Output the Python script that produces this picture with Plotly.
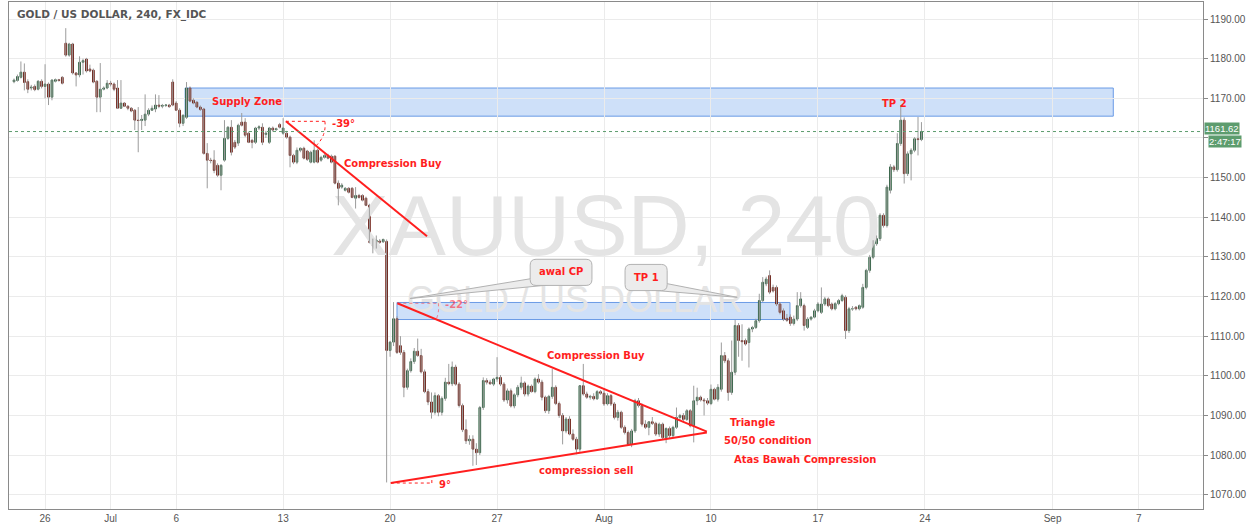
import plotly.graph_objects as go
from datetime import datetime, timedelta

# ---------------- data (4h candles, XAUUSD) ----------------
opens = [
 1174.2,1174.5,1175.3,1176.6,1174.2,1172.6,1173.0,1172.3,1174.3,
 1173.0,1173.6,1170.3,1174.3,1174.7,1175.3,
 1183.9,
 1180.9,1183.7,1176.4,1175.9,1179.1,1179.9,
 1177.4,1177.1,1174.3,1170.3,1172.3,1172.6,
 1173.8,1173.6,1172.6,1167.5,1168.8,1168.0,
 1167.5,1167.0,1164.5,1164.4,1164.5,1166.0,
 1167.0,1167.3,1168.3,1168.0,1168.2,1168.3,
 1174.1,
 1168.8,1167.0,1163.7,1165.2,1172.6,1169.5,
 1169.0,1167.8,1167.3,1156.1,1154.4,1154.4,
 1153.1,1150.6,1154.4,1159.9,1162.7,1158.9,
 1158.7,1164.0,1164.0,1161.2,1159.4,1158.9,
 1162.5,1162.7,1160.9,1158.9,1162.5,1162.1,
 1163.4,
 1161.2,1161.2,1160.2,1155.6,1153.9,1156.9,
 1157.4,1156.7,1153.9,1153.9,1156.9,1154.4,
 1155.1,1155.6,1155.4,1155.4,1148.6,1147.6,
 1146.8,1147.3,1147.3,1144.8,1145.5,1145.5,
 1144.8,1143.0,1134.2,1132.9,1134.0,1133.8,
 1133.9,
 1106.4,1108.5,1114.4,1107.6,1105.9,1097.1,
 1101.3,1103.6,1106.2,1105.1,1101.0,1096.0,
 1093.4,1090.8,1095.0,1090.8,1094.3,1098.4,
 1098.0,1102.2,1097.9,1092.5,1086.4,1083.6,
 1084.0,1081.5,1080.6,1092.0,1098.8,1098.4,
 1097.9,
 1099.2,1099.6,1097.9,1093.9,1096.2,1092.4,
 1095.2,1097.1,1098.2,1095.4,1097.4,1096.0,
 1099.2,1098.4,1094.6,1091.2,1094.8,1097.1,
 1093.0,1090.0,1086.1,1089.1,1085.3,1084.0,
 1081.5,1097.5,1095.4,1094.6,1094.8,1094.2,
 1096.0,
 1095.6,1092.9,1095.0,1092.9,1089.5,1090.8,
 1087.0,1085.7,1082.7,1086.1,1093.7,1092.5,
 1087.8,1087.0,1088.4,1088.0,1085.3,1087.8,
 1084.4,1086.7,1084.9,1087.0,1089.5,1090.0,
 1089.0,1091.2,1087.4,1093.7,1094.6,1093.9,
 1093.7,
 1093.0,1096.6,1094.1,1096.6,1105.1,1103.8,
 1095.8,1100.9,1112.7,1108.9,1108.9,1108.4,
 1111.8,1112.2,1113.9,1119.0,1123.2,1125.3,
 1122.3,1122.3,1118.1,1116.4,1114.5,1114.8,
 1113.2,1114.3,1117.7,1117.7,1112.2,1114.3,
 1114.8,
 1116.4,1116.0,1118.1,1119.4,1118.1,1116.9,
 1118.2,1119.0,1119.8,1111.4,1116.9,1117.3,
 1116.9,1117.3,1122.3,1126.6,1129.9,1133.3,
 1134.6,1140.5,1137.9,1146.8,1152.7,1152.0,
 1158.6,1164.5,1151.0,1156.0,1156.9,1159.8,
 1159.6,
]
highs = [
 1175.0,1176.0,1179.3,1178.8,1174.8,1173.4,1173.5,1174.6,1174.8,
 1178.6,1174.0,1174.8,1175.0,1174.9,1175.6,
 1187.7,
 1184.0,1184.0,1176.6,1180.6,1180.0,1180.2,
 1178.5,1177.5,1174.6,1178.9,1173.0,1174.6,
 1174.4,1174.0,1174.6,1174.6,1169.0,1168.3,
 1167.8,1167.3,1167.8,1165.8,1171.0,1167.5,
 1168.2,1171.0,1170.8,1168.6,1168.5,1168.6,
 1174.8,
 1169.3,1167.5,1166.0,1174.1,1173.0,1170.0,
 1169.3,1168.2,1167.6,1158.7,1155.0,1156.9,
 1153.6,1153.4,1164.5,1163.0,1164.5,1159.5,
 1163.6,1166.3,1165.0,1161.6,1159.8,1162.8,
 1163.2,1163.7,1161.8,1162.8,1162.9,1162.6,
 1163.8,
 1165.0,1161.8,1160.6,1156.0,1157.6,1157.6,
 1157.8,1157.0,1156.8,1159.4,1157.3,1155.5,
 1155.9,1156.0,1155.8,1155.6,1149.3,1148.6,
 1147.6,1147.6,1147.6,1147.6,1145.9,1145.8,
 1145.2,1143.4,1134.6,1135.4,1134.5,1134.6,
 1134.4,
 1108.8,1118.6,1115.0,1110.0,1106.5,1101.8,
 1104.4,1107.0,1109.4,1106.8,1101.6,1096.7,
 1095.8,1095.8,1095.4,1094.8,1099.5,1103.0,
 1103.6,1102.8,1098.4,1093.0,1089.0,1085.0,
 1085.0,1083.0,1092.4,1099.6,1099.4,1099.0,
 1099.5,
 1104.7,1100.2,1098.4,1096.8,1096.8,1095.6,
 1097.7,1099.8,1098.6,1097.8,1097.8,1099.6,
 1100.4,1099.0,1095.0,1095.2,1101.7,1097.6,
 1093.5,1090.6,1089.6,1089.8,1086.5,1084.6,
 1097.6,1103.0,1096.0,1095.2,1095.6,1096.4,
 1096.4,
 1096.8,1095.6,1095.4,1093.4,1091.4,1091.2,
 1087.5,1086.2,1086.6,1094.2,1094.4,1093.0,
 1088.8,1088.6,1089.6,1088.4,1088.2,1088.2,
 1087.0,1087.2,1087.4,1092.0,1090.4,1090.6,
 1091.6,1091.6,1097.5,1097.0,1095.0,1094.4,
 1094.4,
 1097.8,1097.0,1097.9,1108.4,1106.0,1104.4,
 1108.9,1114.1,1113.3,1113.0,1109.4,1112.2,
 1112.6,1114.4,1120.7,1124.9,1125.0,1126.6,
 1123.0,1122.8,1118.6,1117.0,1115.6,1115.5,
 1115.2,1121.1,1121.1,1118.2,1114.8,1115.0,
 1116.9,
 1118.6,1122.3,1119.9,1119.8,1118.5,1118.6,
 1119.4,1120.7,1120.3,1117.4,1117.6,1117.6,
 1118.0,1123.2,1127.0,1130.5,1134.2,1135.4,
 1141.0,1141.0,1148.2,1153.4,1153.2,1161.2,
 1168.3,1165.2,1156.6,1157.4,1160.2,1165.3,
 1164.0,
]
lows = [
 1173.8,1174.2,1175.0,1172.0,1171.3,1172.0,1171.8,1172.0,1172.5,
 1170.0,1168.3,1169.5,1174.0,1174.2,1173.5,
 1180.5,
 1180.5,1176.0,1173.0,1175.3,1176.0,1176.5,
 1176.6,1173.8,1166.5,1166.5,1172.0,1172.3,
 1173.0,1171.8,1167.3,1167.3,1167.8,1167.0,
 1166.5,1162.0,1156.4,1162.0,1163.0,1165.5,
 1166.8,1166.5,1167.5,1167.5,1167.8,1167.6,
 1168.0,
 1166.8,1162.7,1163.0,1164.8,1169.0,1168.5,
 1167.5,1166.8,1155.8,1147.3,1153.6,1151.1,
 1150.2,1146.8,1154.0,1159.5,1155.6,1157.2,
 1158.0,1162.9,1160.2,1158.7,1157.4,1158.5,
 1162.0,1158.2,1160.0,1158.5,1161.6,1161.8,
 1162.4,
 1160.8,1159.8,1152.6,1153.4,1153.4,1156.4,
 1154.6,1154.2,1153.6,1153.6,1153.6,1154.0,
 1154.8,1154.6,1153.6,1148.3,1143.0,1147.2,
 1146.5,1146.0,1144.8,1142.2,1144.7,1144.0,
 1142.8,1133.4,1130.9,1132.1,1133.3,1133.5,
 1073.1,
 1104.8,1107.5,1105.5,1105.3,1094.6,1096.5,
 1100.8,1103.0,1104.8,1100.6,1095.6,1092.6,
 1089.2,1090.2,1089.8,1090.0,1093.7,1097.6,
 1097.4,1097.5,1092.0,1085.8,1082.8,1082.6,
 1077.3,1077.5,1080.0,1091.4,1097.8,1097.7,
 1097.4,
 1098.5,1097.4,1093.4,1093.0,1092.0,1091.8,
 1094.6,1096.5,1094.8,1094.8,1095.8,1095.6,
 1098.0,1093.8,1090.6,1090.4,1094.2,1092.6,
 1089.4,1082.7,1085.5,1085.0,1083.6,1080.2,
 1080.8,1095.0,1094.2,1094.0,1093.8,1093.9,
 1095.2,
 1092.4,1092.5,1092.4,1089.0,1088.7,1086.6,
 1085.2,1082.3,1082.0,1085.6,1092.0,1087.2,
 1086.6,1085.0,1087.6,1084.8,1084.6,1084.0,
 1083.0,1084.3,1084.2,1086.6,1088.6,1088.4,
 1088.6,1087.0,1083.2,1092.6,1093.5,1090.0,
 1092.6,
 1092.6,1093.8,1093.5,1096.0,1103.2,1093.7,
 1095.2,1100.2,1104.8,1103.8,1107.6,1102.1,
 1111.0,1111.8,1113.4,1118.6,1122.6,1120.6,
 1121.0,1117.6,1115.5,1113.8,1113.6,1112.6,
 1112.7,1113.8,1117.2,1111.4,1111.8,1113.9,
 1114.5,
 1116.0,1115.6,1117.6,1117.3,1116.5,1116.5,
 1117.8,1118.6,1109.3,1110.8,1116.4,1116.5,
 1116.5,1116.9,1121.8,1126.0,1129.4,1132.8,
 1134.0,1137.4,1137.4,1146.0,1151.4,1151.5,
 1158.0,1148.5,1150.4,1149.3,1156.4,1155.6,
 1159.2,
]
closes = [
 1174.6,1175.5,1176.6,1174.0,1172.3,1172.8,1172.2,1174.3,1173.0,
 1173.6,1170.3,1174.6,1174.7,1174.5,1173.8,
 1180.9,
 1183.7,1176.4,1175.9,1179.1,1179.5,1176.9,
 1176.9,1174.1,1170.3,1172.3,1172.6,1173.8,
 1173.6,1172.3,1167.5,1168.8,1168.0,1167.5,
 1166.8,1164.5,1164.4,1164.7,1166.0,1167.0,
 1167.5,1168.3,1168.0,1168.2,1168.3,1167.9,
 1168.3,
 1167.0,1163.7,1165.7,1172.6,1169.3,1168.8,
 1167.8,1167.2,1156.1,1154.4,1154.3,1151.8,
 1150.6,1153.1,1159.9,1162.7,1156.4,1157.7,
 1163.2,1163.2,1160.7,1158.9,1158.9,1162.5,
 1162.8,1158.9,1161.2,1162.5,1162.0,1162.3,
 1162.7,
 1162.5,1160.2,1155.6,1153.9,1156.9,1157.4,
 1154.9,1154.6,1156.4,1156.9,1153.9,1155.1,
 1155.6,1154.9,1153.9,1148.6,1147.3,1148.1,
 1147.3,1146.3,1145.0,1145.5,1145.0,1144.3,
 1143.0,1133.7,1132.9,1134.2,1133.7,1134.4,
 1106.4,
 1108.5,1114.4,1105.9,1105.9,1097.1,1101.3,
 1103.6,1106.2,1105.1,1101.0,1096.0,1093.4,
 1090.8,1095.0,1090.8,1094.3,1098.4,1098.0,
 1102.2,1097.9,1092.5,1086.4,1083.6,1084.0,
 1081.5,1080.6,1092.0,1098.8,1098.4,1098.0,
 1099.2,
 1099.6,1097.9,1093.9,1096.2,1092.4,1095.2,
 1097.1,1098.2,1095.4,1097.4,1096.0,1099.2,
 1098.4,1094.6,1091.2,1094.8,1097.1,1093.0,
 1090.0,1086.1,1089.1,1085.3,1084.0,1081.5,
 1097.5,1095.4,1094.6,1094.8,1094.2,1096.0,
 1095.6,
 1092.9,1095.0,1092.9,1089.5,1090.8,1087.0,
 1085.7,1082.7,1086.1,1093.7,1092.5,1087.8,
 1087.0,1088.4,1088.0,1085.3,1087.8,1084.4,
 1086.7,1084.9,1087.0,1089.5,1090.0,1089.0,
 1091.2,1087.4,1093.7,1094.6,1093.9,1093.7,
 1093.1,
 1096.6,1094.1,1097.1,1105.1,1103.8,1095.8,
 1100.9,1112.7,1108.9,1108.6,1108.0,1111.8,
 1112.2,1113.9,1119.0,1123.6,1124.4,1121.1,
 1121.4,1118.1,1116.0,1114.3,1114.0,1113.2,
 1114.3,1117.7,1119.4,1112.7,1114.3,1114.8,
 1116.4,
 1118.1,1118.1,1119.4,1117.7,1116.9,1118.2,
 1119.0,1120.2,1111.4,1116.9,1116.9,1116.9,
 1117.7,1122.3,1126.6,1129.9,1133.7,1134.6,
 1140.5,1137.9,1147.6,1152.7,1152.0,1158.6,
 1164.5,1151.0,1156.0,1156.9,1159.8,1159.6,
 1161.62,
]

tick_dates = ["2015-06-26", "2015-07-01", "2015-07-06", "2015-07-13", "2015-07-20", "2015-07-27",
              "2015-08-03", "2015-08-10", "2015-08-17", "2015-08-24", "2015-09-01", "2015-09-07"]
tick_labels = ["26", "Jul", "6", "13", "20", "27", "Aug", "10", "17", "24", "Sep", "7"]
price_levels = [1070, 1080, 1090, 1100, 1110, 1120, 1130, 1140, 1150, 1160, 1170, 1180, 1190]

last_price = 1161.62
countdown = "2:47:17"

# drawings (bar index, price)
zones = [(49.6, 318.6, 1165.5, 1172.6), (111.0, 224.9, 1114.2, 1118.5)]
trend_lines = [(78.8, 1164.2, 119.7, 1135.2),
               (111.1, 1118.3, 200.8, 1085.9),
               (109.2, 1072.95, 200.8, 1085.7)]

# ---------------- bar calendar (4h bars + one Sunday-evening bar per week) ----------------
start = datetime(2015, 6, 24, 12)
times = []
d = datetime(2015, 6, 24)
while d <= datetime(2015, 9, 12):
    wd = d.weekday()
    if wd == 6:
        times.append(d + timedelta(hours=20))
    elif wd < 5:
        for h in range(0, 24, 4):
            t = d + timedelta(hours=h)
            if t >= start:
                times.append(t)
    d += timedelta(days=1)

tickvals = [times.index(datetime.fromisoformat(s)) for s in tick_dates]
idx = list(range(len(closes)))
# the price tag hides the axis label it sits on
price_text = ["" if abs(v - last_price) < 5 else f"{v:.2f}" for v in price_levels]

RED = "#ff1e1e"
fig = go.Figure()

# watermarks (as a trace so that the candles sit above them)
fig.add_trace(go.Scatter(x=[171.6], y=[1135.8], mode="text", text=["XAUUSD, 240"],
                         textfont=dict(family="Liberation Sans", size=86, color="#e4e4e4"),
                         hoverinfo="skip", showlegend=False))
fig.add_trace(go.Scatter(x=[162.6], y=[1118.3], mode="text", text=["GOLD / US DOLLAR"],
                         textfont=dict(family="Liberation Sans", size=36, color="#e4e4e4"),
                         hoverinfo="skip", showlegend=False))

# wicks
wx, wy = [], []
for i, (h, l) in enumerate(zip(highs, lows)):
    wx += [i, i, None]
    wy += [l, h, None]
fig.add_trace(go.Scatter(x=wx, y=wy, mode="lines", line=dict(color="#9c9c9c", width=1),
                         hoverinfo="skip", showlegend=False))

# bodies
fig.add_trace(go.Candlestick(
    x=idx, open=opens, close=closes,
    high=[max(o, c) for o, c in zip(opens, closes)],
    low=[min(o, c) for o, c in zip(opens, closes)],
    increasing=dict(fillcolor="#5c9a70", line=dict(color="#2d5e3f", width=1)),
    decreasing=dict(fillcolor="#a8402f", line=dict(color="#6b1d14", width=1)),
    whiskerwidth=0, showlegend=False, hoverinfo="skip"))

shapes = []
for x0, x1, y0, y1 in zones:
    shapes.append(dict(type="rect", xref="x", yref="y", x0=x0, x1=x1, y0=y0, y1=y1,
                       fillcolor="rgba(60,130,230,0.25)", line=dict(color="#6a9be6", width=1),
                       layer="below"))
for x0, y0, x1, y1 in trend_lines:
    shapes.append(dict(type="line", xref="x", yref="y", x0=x0, y0=y0, x1=x1, y1=y1,
                       line=dict(color=RED, width=2), layer="above"))

# angle markers
dot = dict(color=RED, width=1, dash="dot")
shapes.append(dict(type="line", xref="x", yref="y", x0=78.8, y0=1164.2, x1=90.1, y1=1164.2, line=dot))
shapes.append(dict(type="path", xref="x", yref="y", path="M 90.1,1164.2 Q 90.6,1160.6 87.5,1158.0", line=dot))
pink = dict(color="rgba(255,40,60,0.55)", width=1, dash="dot")
shapes.append(dict(type="line", xref="x", yref="y", x0=111.1, y0=1118.3, x1=123.0, y1=1118.3, line=pink))
shapes.append(dict(type="path", xref="x", yref="y", path="M 123.0,1118.3 Q 123.3,1116.2 122.4,1114.3", line=pink))
shapes.append(dict(type="line", xref="x", yref="y", x0=109.2, y0=1072.95, x1=121.1, y1=1072.95, line=dot))
shapes.append(dict(type="line", xref="x", yref="y", x0=121.1, y0=1072.95, x1=121.1, y1=1074.6, line=dot))

# callouts
def rrect(x0, x1, y0, y1, rx=1.7, ry=1.5):
    return (f"M {x0+rx},{y1} L {x1-rx},{y1} Q {x1},{y1} {x1},{y1-ry} L {x1},{y0+ry} "
            f"Q {x1},{y0} {x1-rx},{y0} L {x0+rx},{y0} Q {x0},{y0} {x0},{y0+ry} "
            f"L {x0},{y1-ry} Q {x0},{y1} {x0+rx},{y1} Z")

cfill, cline = "#ececec", "#b2b2b2"
shapes.append(dict(type="path", xref="x", yref="y", path="M 150.5,1124.6 L 114.8,1119.5 L 154.8,1122.9 Z",
                   fillcolor=cfill, line=dict(color=cline, width=1)))
shapes.append(dict(type="path", xref="x", yref="y", path=rrect(149.6, 167.5, 1122.8, 1129.4),
                   fillcolor=cfill, line=dict(color=cline, width=1)))
shapes.append(dict(type="path", xref="x", yref="y", path="M 188.4,1123.4 L 209.6,1119.8 L 185.0,1121.6 Z",
                   fillcolor=cfill, line=dict(color=cline, width=1)))
shapes.append(dict(type="path", xref="x", yref="y", path=rrect(177.1, 189.3, 1121.5, 1128.1),
                   fillcolor=cfill, line=dict(color=cline, width=1)))

# last price line
shapes.append(dict(type="line", xref="paper", yref="y", x0=0, x1=1, y0=last_price, y1=last_price,
                   line=dict(color="#5d9c6e", width=1, dash="dot")))

annotations = []
def label(text, x, y, anchor="left", color=RED):
    annotations.append(dict(text=f"<b>{text}</b>", x=x, y=y, xref="x", yref="y", showarrow=False,
                            xanchor=anchor, yanchor="middle",
                            font=dict(family="DejaVu Sans", size=10, color=color)))

label("Supply Zone", 56.8, 1169.3)
label("-39°", 91.6, 1163.7)
label("Compression Buy", 95.1, 1153.6)
label("-22°", 124.3, 1118.0, color="rgba(255,40,60,0.6)")
label("9°", 122.6, 1072.6)
label("awal CP", 158.6, 1126.2, anchor="center")
label("TP 1", 183.2, 1124.9, anchor="center")
label("Compression Buy", 153.9, 1105.1)
label("compression sell", 151.6, 1076.1)
label("Triangle", 207.0, 1088.2)
label("50/50 condition", 205.2, 1083.6)
label("Atas Bawah Compression", 208.1, 1078.8)
label("TP 2", 251.0, 1168.8)

annotations.append(dict(text="<b>GOLD / US DOLLAR, 240, FX_IDC</b>", xref="paper", yref="paper",
                        x=0, y=0.975, xshift=6, xanchor="left", yanchor="middle", showarrow=False,
                        font=dict(family="DejaVu Sans", size=10.5, color="#555555")))
annotations.append(dict(text=f"{last_price:.2f}", xref="paper", yref="y", x=1, y=last_price,
                        xanchor="left", yanchor="middle", showarrow=False, xshift=1, yshift=3,
                        bgcolor="#5d9c6e", borderpad=0,
                        font=dict(family="Liberation Sans", size=9.5, color="white")))
annotations.append(dict(text=countdown, xref="paper", yref="y", x=1, y=last_price,
                        xanchor="left", yanchor="middle", showarrow=False, xshift=5, yshift=-10,
                        bgcolor="#5d9c6e", borderpad=0,
                        font=dict(family="Liberation Sans", size=9.5, color="white")))

fig.update_layout(
    width=1249, height=527,
    margin=dict(l=9, r=46, t=2, b=18),
    plot_bgcolor="white", paper_bgcolor="white",
    showlegend=False, hovermode=False,
    shapes=shapes, annotations=annotations,
    xaxis=dict(range=[-1.45, 344.6], tickmode="array", tickvals=tickvals, ticktext=tick_labels,
               showgrid=True, gridcolor="#ebebeb", zeroline=False, showline=True, linecolor="#8a8a8a",
               mirror=True, ticks="", tickfont=dict(family="Liberation Sans", size=10, color="#555555"),
               rangeslider=dict(visible=False)),
    yaxis=dict(side="right", range=[1066.4, 1194.3], tickmode="array", tickvals=price_levels,
               ticktext=price_text,
               showgrid=True, gridcolor="#ebebeb", zeroline=False, showline=True, linecolor="#8a8a8a",
               mirror=True, ticks="outside", ticklen=4, tickcolor="#8a8a8a",
               tickfont=dict(family="Liberation Sans", size=10, color="#555555")),
)

fig.write_html("out.html", config={"displayModeBar": False},
               post_script="document.body.style.margin='0';document.body.style.overflow='hidden';")
